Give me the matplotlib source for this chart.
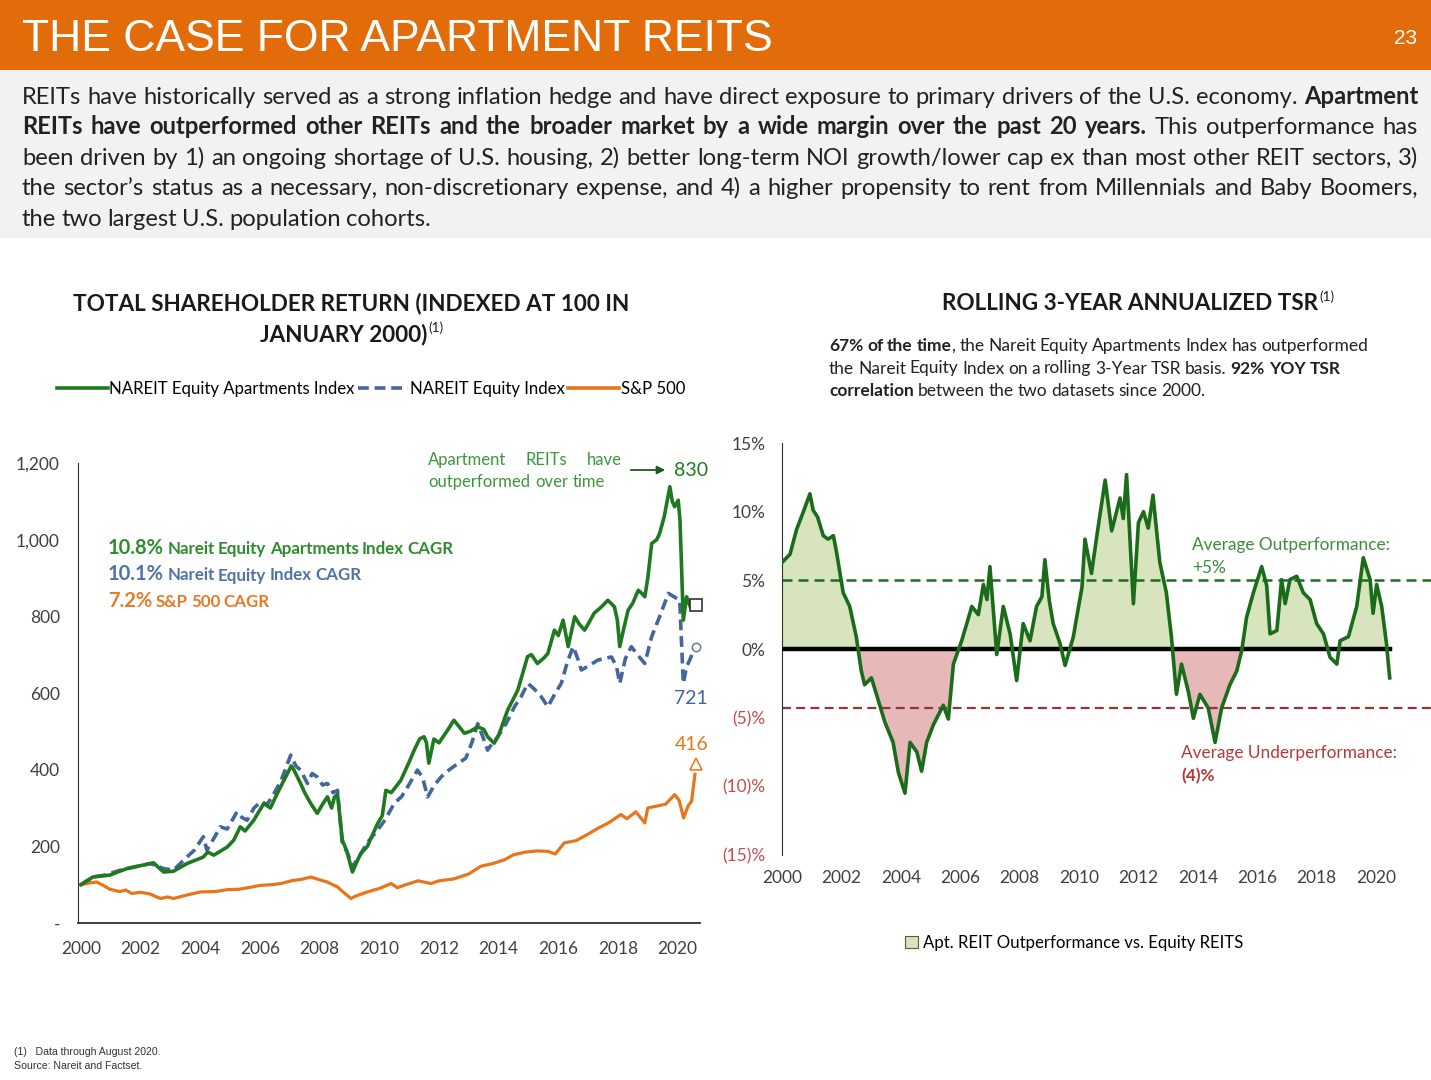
import matplotlib
matplotlib.use("Agg")
import matplotlib.pyplot as plt
from matplotlib.lines import Line2D
from matplotlib.patches import Rectangle, Patch, FancyArrowPatch
import numpy as np

# ---- data: total shareholder return, indexed at 100 in Jan 2000 ----
apt_years = [2000.0, 2000.4, 2000.97, 2001.3, 2001.54, 2001.9, 2002.43, 2002.77, 2003.1, 2003.55,
             2004.1, 2004.25, 2004.45, 2004.9, 2005.12, 2005.34, 2005.5, 2005.79, 2006.13, 2006.35,
             2006.58, 2006.92, 2007.05, 2007.14, 2007.36, 2007.5, 2007.7, 2007.92, 2008.1, 2008.26,
             2008.4, 2008.5, 2008.6, 2008.76, 2008.9, 2009.1, 2009.25, 2009.38, 2009.6, 2009.94,
             2010.1, 2010.22, 2010.4, 2010.72, 2011.0, 2011.17, 2011.35, 2011.5, 2011.58, 2011.66,
             2011.83, 2012.0, 2012.29, 2012.5, 2012.7, 2012.85, 2013.05, 2013.3, 2013.5, 2013.63,
             2013.85, 2014.0, 2014.3, 2014.64, 2014.97, 2015.1, 2015.3, 2015.5, 2015.65, 2015.87,
             2016.0, 2016.16, 2016.33, 2016.55, 2016.7, 2016.88, 2017.0, 2017.2, 2017.45, 2017.66,
             2017.88, 2017.98, 2018.06, 2018.2, 2018.34, 2018.5, 2018.68, 2018.8, 2018.9, 2019.0,
             2019.13, 2019.3, 2019.4, 2019.55, 2019.74, 2019.82, 2019.9, 2020.02, 2020.08, 2020.19,
             2020.3, 2020.45, 2020.55]
apt_vals = [100, 120, 125, 135, 142, 148, 157, 133, 135, 155,
            172, 185, 177, 198, 216, 251, 240, 268, 312, 300,
            338, 390, 410, 399, 364, 340, 312, 286, 310, 329,
            300, 329, 335, 216, 190, 133, 160, 181, 200, 259,
            280, 346, 340, 372, 420, 451, 480, 486, 470, 417,
            480, 470, 503, 529, 510, 495, 500, 512, 505, 486,
            469, 490, 555, 607, 695, 700, 677, 690, 703, 764,
            750, 790, 721, 799, 780, 764, 780, 808, 825, 842,
            825, 790, 721, 770, 816, 835, 868, 860, 851, 900,
            990, 1000, 1017, 1060, 1138, 1100, 1086, 1103, 1050, 790,
            851, 820, 835]

eq_years = [2000.0, 2000.41, 2000.8, 2001.2, 2001.54, 2001.9, 2002.32, 2002.5, 2002.77, 2003.1,
            2003.55, 2003.8, 2004.1, 2004.22, 2004.45, 2004.67, 2004.9, 2005.23, 2005.4, 2005.57,
            2005.8, 2006.02, 2006.25, 2006.47, 2006.7, 2007.03, 2007.2, 2007.36, 2007.59, 2007.75,
            2007.92, 2008.1, 2008.26, 2008.45, 2008.6, 2008.76, 2008.95, 2009.1, 2009.38, 2009.6,
            2009.94, 2010.2, 2010.5, 2010.75, 2010.95, 2011.28, 2011.45, 2011.62, 2011.85, 2012.07,
            2012.35, 2012.63, 2012.9, 2013.1, 2013.3, 2013.45, 2013.63, 2013.8, 2013.97, 2014.25,
            2014.53, 2014.75, 2014.98, 2015.2, 2015.43, 2015.65, 2015.9, 2016.1, 2016.3, 2016.5,
            2016.65, 2016.77, 2017.0, 2017.33, 2017.55, 2017.78, 2017.95, 2018.06, 2018.25, 2018.45,
            2018.65, 2018.9, 2019.13, 2019.4, 2019.69, 2019.9, 2020.07, 2020.19, 2020.3, 2020.45,
            2020.55]
eq_vals = [100, 120, 125, 135, 142, 148, 155, 150, 142, 138,
           172, 190, 225, 190, 220, 251, 245, 290, 275, 268,
           300, 316, 310, 338, 370, 438, 410, 399, 364, 390,
           381, 360, 364, 340, 346, 207, 180, 146, 181, 210,
           242, 270, 312, 330, 355, 399, 380, 329, 360, 381,
           400, 416, 430, 470, 520, 490, 451, 470, 486, 520,
           564, 590, 625, 610, 590, 564, 600, 625, 680, 721,
           690, 660, 670, 686, 690, 694, 670, 625, 690, 721,
           700, 677, 747, 800, 860, 850, 842, 625, 668, 694,
           720]

sp_years = [2000.0, 2000.25, 2000.53, 2000.75, 2000.97, 2001.3, 2001.5, 2001.7, 2002.0, 2002.3,
            2002.66, 2002.9, 2003.1, 2003.5, 2004.0, 2004.5, 2004.9, 2005.3, 2005.6, 2006.0,
            2006.4, 2006.7, 2007.1, 2007.4, 2007.7, 2007.9, 2008.25, 2008.6, 2008.8, 2009.05,
            2009.2, 2009.6, 2010.0, 2010.4, 2010.6, 2010.9, 2011.3, 2011.73, 2012.0, 2012.5,
            2013.0, 2013.4, 2013.8, 2014.2, 2014.5, 2014.9, 2015.3, 2015.65, 2015.9, 2016.2,
            2016.6, 2017.0, 2017.35, 2017.7, 2018.1, 2018.3, 2018.6, 2018.9, 2019.0, 2019.3,
            2019.6, 2019.9, 2020.05, 2020.2, 2020.35, 2020.47, 2020.58]
sp_vals = [100, 104, 107, 98, 88, 82, 86, 77, 80, 76,
           64, 68, 64, 72, 81, 82, 87, 88, 92, 98,
           100, 103, 111, 114, 120, 115, 107, 94, 80, 64,
           70, 81, 90, 103, 92, 100, 110, 103, 110, 115,
           128, 148, 155, 165, 178, 185, 188, 187, 180, 209,
           215, 232, 248, 262, 283, 272, 290, 261, 300, 305,
           310, 335, 320, 274, 305, 318, 388]

series_names = ["NAREIT Equity Apartments Index", "NAREIT Equity Index", "S&P 500"]
end_vals = [830, 721, 416]
end_year = 2020.62
cagr_pct = ["10.8%", "10.1%", "7.2%"]
cagr_names = ["Nareit Equity Apartments Index CAGR", "Nareit Equity Index CAGR", "S&P 500 CAGR"]

left_yticks = [0, 200, 400, 600, 800, 1000, 1200]
left_ylabels = ["-", "200", "400", "600", "800", "1,000", "1,200"]
year_ticks = list(range(2000, 2021, 2))

# ---- data: rolling 3-year annualized TSR, apartments minus equity REITs (%) ----
tsr_years = [2000.0, 2000.27, 2000.49, 2000.72, 2000.94, 2001.05, 2001.2, 2001.39, 2001.55, 2001.73,
             2001.84, 2002.06, 2002.28, 2002.5, 2002.67, 2002.78, 2003.01, 2003.18, 2003.46, 2003.74,
             2003.92, 2004.14, 2004.31, 2004.54, 2004.7, 2004.87, 2005.1, 2005.43, 2005.6, 2005.77,
             2006.05, 2006.39, 2006.61, 2006.78, 2006.9, 2007.0, 2007.23, 2007.45, 2007.68, 2007.9,
             2008.12, 2008.35, 2008.57, 2008.75, 2008.85, 2009.0, 2009.13, 2009.36, 2009.53, 2009.81,
             2009.92, 2010.1, 2010.2, 2010.42, 2010.6, 2010.88, 2011.1, 2011.38, 2011.49, 2011.6,
             2011.83, 2012.0, 2012.17, 2012.33, 2012.49, 2012.72, 2012.94, 2013.11, 2013.28, 2013.45,
             2013.68, 2013.85, 2014.07, 2014.35, 2014.58, 2014.8, 2015.08, 2015.31, 2015.48, 2015.64,
             2015.87, 2016.15, 2016.32, 2016.43, 2016.66, 2016.82, 2016.94, 2017.1, 2017.33, 2017.55,
             2017.78, 2018.0, 2018.23, 2018.45, 2018.68, 2018.79, 2019.07, 2019.35, 2019.57, 2019.8,
             2019.9, 2020.02, 2020.19, 2020.35, 2020.46]
tsr_vals = [6.3, 6.9, 8.7, 10.0, 11.3, 10.1, 9.6, 8.25, 8.0, 8.25,
            7.0, 4.1, 3.1, 0.9, -1.6, -2.6, -2.1, -3.3, -5.3, -6.8,
            -9.0, -10.5, -6.8, -7.5, -8.9, -6.8, -5.5, -4.1, -5.1, -1.1,
            0.6, 3.1, 2.5, 4.7, 3.6, 6.0, -0.4, 3.1, 1.1, -2.3,
            1.85, 0.6, 3.1, 3.8, 6.5, 3.5, 1.85, 0.4, -1.2, 0.9,
            2.3, 4.5, 8.0, 5.5, 8.25, 12.3, 8.6, 11.0, 9.5, 12.7,
            3.3, 9.2, 10.0, 8.8, 11.2, 6.3, 4.1, 0.9, -3.3, -1.1,
            -3.1, -5.05, -3.3, -4.3, -6.8, -4.3, -2.6, -1.6, -0.1, 2.3,
            4.1, 6.0, 4.6, 1.1, 1.35, 5.05, 3.3, 5.05, 5.3, 4.1,
            3.6, 1.85, 1.1, -0.6, -1.1, 0.6, 0.9, 3.1, 6.65, 5.05,
            2.6, 4.7, 3.1, 0.4, -2.1]
red_periods = [(2002.5, 2005.9), (2013.1, 2015.5)]
avg_out = 5.0
avg_under = -4.3
right_yticks = [-15, -10, -5, 0, 5, 10, 15]
right_ylabels = ["(15)%", "(10)%", "(5)%", "0%", "5%", "10%", "15%"]

# ---- colours ----
ORANGE_BAR = "#E36C0A"
GREEN = "#1F7A1F"
BLUE = "#44679A"
ORANGE = "#E8751A"
DKGREEN = "#1A6B1A"
TXTGREEN = "#2E8B2E"
RED = "#C0504D"

W, H = 1431, 1080
plt.rcParams["font.family"] = ["Lato", "DejaVu Sans"]

fig = plt.figure(figsize=(W / 100, H / 100), dpi=100)
renderer = fig.canvas.get_renderer()


def fx(x):
    return x / W


def fy(y):
    return 1 - y / H


def draw_runs(runs, x0, y, width=None, family="Lato", space=0.22):
    # runs: (text, bold, size, color); words are spread to fill width when given
    groups = []
    for text, bold, size, color in runs:
        for i, p in enumerate(text.split(" ")):
            if p == "":
                continue
            piece = (p, bold, size, color)
            if i == 0 and not text.startswith(" ") and groups:
                groups[-1].append(piece)
            else:
                groups.append([piece])
    drawn = []
    for g in groups:
        items = []
        for p, bold, size, color in g:
            t = fig.text(0, fy(y), p, fontsize=size, color=color, family=family,
                         fontweight="bold" if bold else "normal", va="baseline", ha="left")
            items.append((t, t.get_window_extent(renderer).width))
        drawn.append(items)
    widths = [sum(w for _, w in items) for items in drawn]
    if width is None or len(drawn) < 2:
        gap = runs[-1][2] * space * 100 / 72
    else:
        gap = (width - sum(widths)) / (len(drawn) - 1)
    x = x0
    for items in drawn:
        for t, w in items:
            t.set_x(fx(x))
            x += w
        x += gap


def title_line(text, cx, y, size, note=True):
    t = fig.text(0, fy(y), text, fontsize=size, fontweight="bold", color="#1a1a1a",
                 va="baseline", ha="left")
    w = t.get_window_extent(renderer).width
    ws = 0
    if note:
        s = fig.text(0, fy(y - size * 0.55), "(1)", fontsize=size * 0.6, color="#1a1a1a",
                     va="baseline", ha="left")
        ws = s.get_window_extent(renderer).width
    x = cx - (w + ws) / 2
    t.set_x(fx(x))
    if note:
        s.set_x(fx(x + w + 1))


# ---- header band and intro text ----
fig.patches.append(Rectangle((0, fy(70)), 1, 70 / H, transform=fig.transFigure,
                             facecolor=ORANGE_BAR, edgecolor="none", zorder=0))
fig.patches.append(Rectangle((0, fy(238)), 1, 168 / H, transform=fig.transFigure,
                             facecolor="#F2F2F2", edgecolor="none", zorder=0))
fig.text(fx(22), fy(51), "THE CASE FOR APARTMENT REITS", fontsize=32, color="white",
         family="Liberation Sans", va="baseline", ha="left")
fig.text(fx(1417), fy(44), "23", fontsize=15, color="white", family="Liberation Sans",
         va="baseline", ha="right")

body = "#222222"
BS = 17.1
body_lines = [
    [("REITs have historically served as a strong inflation hedge and have direct exposure to primary drivers of the U.S. economy.", False, BS, body),
     (" Apartment", True, BS, body)],
    [("REITs have outperformed other REITs and the broader market by a wide margin over the past 20 years.", True, BS, body),
     (" This outperformance has", False, BS, body)],
    [("been driven by 1) an ongoing shortage of U.S. housing, 2) better long-term NOI growth/lower cap ex than most other REIT sectors, 3)", False, BS, body)],
    [("the sector\u2019s status as a necessary, non-discretionary expense, and 4) a higher propensity to rent from Millennials and Baby Boomers,", False, BS, body)],
    [("the two largest U.S. population cohorts.", False, BS, body)],
]
body_base = [104, 134.5, 165, 195, 225.5]
for i, (line, yb) in enumerate(zip(body_lines, body_base)):
    draw_runs(line, 22, yb, width=None if i == len(body_lines) - 1 else 1396)

# ---- left chart: total shareholder return ----
title_line("TOTAL SHAREHOLDER RETURN (INDEXED AT 100 IN", 351, 310, 16.2, note=False)
title_line("JANUARY 2000)", 351, 341, 16.2)

ax1 = fig.add_axes([fx(78), fy(923), 622 / W, 460 / H])
ax1.plot(apt_years, apt_vals, color=GREEN, lw=2.6, solid_joinstyle="round", zorder=3)
ax1.plot(eq_years, eq_vals, color=BLUE, lw=2.6, dashes=(3, 1.6), zorder=2)
ax1.plot(sp_years, sp_vals, color=ORANGE, lw=2.3, solid_joinstyle="round", zorder=2)
ax1.plot([end_year], [end_vals[0]], marker="s", ms=9, mfc="white", mec="#222222", mew=1.1,
         ls="none", clip_on=False, zorder=5)
ax1.plot([end_year], [end_vals[1]], marker="o", ms=6, mfc="white", mec="#6b7b8c", mew=1.1,
         ls="none", clip_on=False, zorder=5)
ax1.plot([end_year], [end_vals[2]], marker="^", ms=8, mfc="white", mec=ORANGE, mew=1.1,
         ls="none", clip_on=False, zorder=5)
ax1.set_xlim(1999.9, 2020.75)
ax1.set_ylim(0, 1200)
ax1.set_yticks(left_yticks)
ax1.set_yticklabels(left_ylabels)
ax1.set_xticks(year_ticks)
ax1.set_xticklabels([str(y) for y in year_ticks])
ax1.tick_params(axis="both", length=0, labelsize=12.5, colors="#404040")
ax1.tick_params(axis="y", pad=13)
ax1.tick_params(axis="x", pad=13)
for s in ["top", "right"]:
    ax1.spines[s].set_visible(False)
ax1.spines["left"].set_color("#303030")
ax1.spines["bottom"].set_color("#303030")
ax1.spines["bottom"].set_linewidth(1.3)
ax1.patch.set_alpha(0)

handles = [Line2D([], [], color=GREEN, lw=2.6),
           Line2D([], [], color=BLUE, lw=2.6, dashes=(3, 1.6)),
           Line2D([], [], color=ORANGE, lw=2.6)]
fig.legend(handles, series_names, loc="center", bbox_to_anchor=(fx(371), fy(389)), ncol=3,
           frameon=False, fontsize=12.1, handlelength=3.0, handletextpad=0.1, columnspacing=0.2)

cagr_colors = [TXTGREEN, "#4F72A8", "#E8782A"]
for i, (p, n, c) in enumerate(zip(cagr_pct, cagr_names, cagr_colors)):
    draw_runs([(p, True, 14.5, c), (" " + n, True, 12.2, c)], 108, 554 + 26.5 * i, space=0.2)

draw_runs([("Apartment REITs have", False, 12, "#3C963C")], 428, 465, width=194)
draw_runs([("outperformed over time", False, 12, "#3C963C")], 428, 487, space=0.3)
fig.add_artist(FancyArrowPatch((fx(628), fy(470)), (fx(668), fy(470)),
                               transform=fig.transFigure, arrowstyle="-|>", mutation_scale=12,
                               color="#1E5A1E", lw=1.3))
fig.text(fx(691), fy(471), str(end_vals[0]), fontsize=14, color=GREEN, ha="center", va="center")
fig.text(fx(691), fy(698), str(end_vals[1]), fontsize=14, color=BLUE, ha="center", va="center")
fig.text(fx(692), fy(744), str(end_vals[2]), fontsize=14, color=ORANGE, ha="center", va="center")

# ---- right chart: rolling 3-year annualized TSR ----
title_line("ROLLING 3-YEAR ANNUALIZED TSR", 1138, 310, 16.2)
DS = 12.5
desc_lines = [
    [("67% of the time", True, DS, body), (", the Nareit Equity Apartments Index has outperformed", False, DS, body)],
    [("the Nareit Equity Index on a rolling 3-Year TSR basis.", False, DS, body), (" 92% YOY TSR", True, DS, body)],
    [("correlation", True, DS, body), (" between the two datasets since 2000.", False, DS, body)],
]
for i, line in enumerate(desc_lines):
    draw_runs(line, 829, 351 + 22.5 * i)

ax2 = fig.add_axes([fx(782), fy(855), 649 / W, 412 / H])
tx = np.array(tsr_years)
tv = np.array(tsr_vals)
ax2.fill_between(tx, tv, 0, where=tv >= 0, interpolate=True, color="#D7E4BD", lw=0, zorder=1)
in_red = np.zeros(len(tx), dtype=bool)
for a, b in red_periods:
    in_red |= (tx >= a) & (tx <= b)
ax2.fill_between(tx, tv, 0, where=(tv <= 0) & in_red, interpolate=True, color="#E6B9B8", lw=0, zorder=1)
ax2.axhline(avg_out, color="#1F6B1F", lw=1.8, dashes=(4, 2.4), zorder=2)
ax2.axhline(avg_under, color="#943634", lw=1.6, dashes=(4, 2.4), zorder=2)
ax2.plot([tx[0], tx[-1]], [0, 0], color="black", lw=3.2, zorder=3)
ax2.plot(tx, tv, color=DKGREEN, lw=2.6, solid_joinstyle="round", zorder=4)
ax2.set_xlim(2000, 2021.85)
ax2.set_ylim(-15, 15)
ax2.set_yticks(right_yticks)
ax2.set_yticklabels(right_ylabels)
ax2.set_xticks(year_ticks)
ax2.set_xticklabels([str(y) for y in year_ticks])
ax2.tick_params(axis="both", length=0, labelsize=12.5, colors="#404040")
ax2.tick_params(axis="y", pad=12)
ax2.tick_params(axis="x", pad=11)
for lab in ax2.get_yticklabels():
    if lab.get_text().startswith("("):
        lab.set_color(RED)
for s in ["top", "right", "bottom"]:
    ax2.spines[s].set_visible(False)
ax2.spines["left"].set_color("#303030")
ax2.patch.set_alpha(0)

AS = 12.4
fig.text(fx(1192), fy(545), "Average Outperformance:", fontsize=AS, color="#3C8C3C", va="center")
fig.text(fx(1192), fy(568), "+5%", fontsize=AS, color="#3C8C3C", va="center")
fig.text(fx(1181), fy(753), "Average Underperformance:", fontsize=AS, color="#B23A3A", va="center")
fig.text(fx(1181), fy(776), "(4)%", fontsize=AS, color="#B23A3A", fontweight="bold", va="center")

fig.legend([Patch(facecolor="#D7E4BD", edgecolor="#4F6228", lw=0.8)],
           ["Apt. REIT Outperformance vs. Equity REITS"], loc="center",
           bbox_to_anchor=(fx(1074), fy(943)), frameon=False, fontsize=12.1,
           handlelength=0.75, handleheight=0.75, handletextpad=0.3)

# ---- footnote ----
fig.text(fx(14), fy(1052), "(1)   Data through August 2020.", fontsize=7.6, family="Liberation Sans",
         color="#333333", va="center")
fig.text(fx(14), fy(1066), "Source: Nareit and Factset.", fontsize=7.6, family="Liberation Sans",
         color="#333333", va="center")

fig.savefig("out.png", dpi=100)
